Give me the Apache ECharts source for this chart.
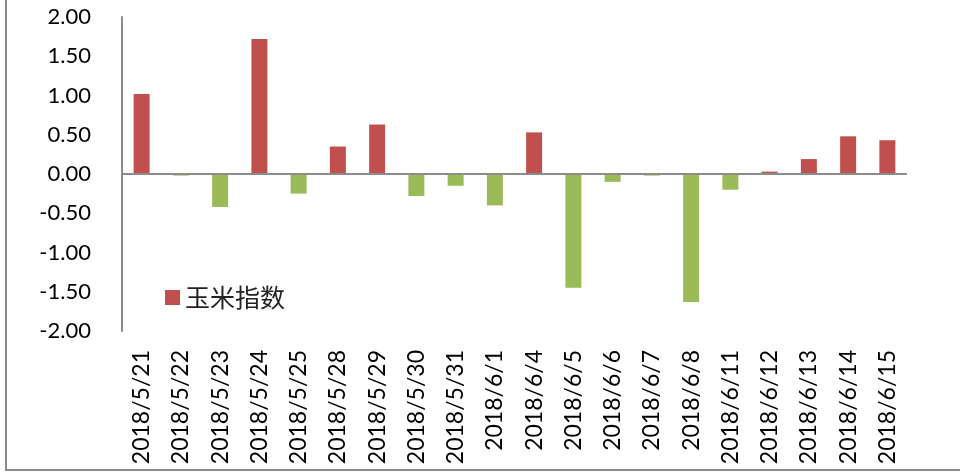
<!DOCTYPE html>
<html>
<head>
<meta charset="utf-8">
<script src="https://cdn.jsdelivr.net/npm/echarts@6/dist/echarts.min.js"></script>
<style>
html,body{margin:0;padding:0;background:#fff;}
#c{width:960px;height:473px;}
</style>
</head>
<body>
<div id="c"></div>
<script>
var categories = ['2018/5/21','2018/5/22','2018/5/23','2018/5/24','2018/5/25','2018/5/28','2018/5/29','2018/5/30','2018/5/31','2018/6/1','2018/6/4','2018/6/5','2018/6/6','2018/6/7','2018/6/8','2018/6/11','2018/6/12','2018/6/13','2018/6/14','2018/6/15'];
var values = [1.02, -0.02, -0.42, 1.72, -0.25, 0.35, 0.63, -0.28, -0.15, -0.40, 0.53, -1.45, -0.10, -0.02, -1.63, -0.20, 0.03, 0.19, 0.48, 0.43];
var seriesName = '玉米指数';
var yTicks = {min: -2, max: 2, interval: 0.5};

var chart = echarts.init(document.getElementById('c'));
chart.setOption({
  animation: false,
  backgroundColor: '#fff',
  grid: {left: 122, right: 53, top: 17, bottom: 142, containLabel: false},
  legend: {
    show: true,
    left: 160, top: 280,
    itemWidth: 15, itemHeight: 15, itemGap: 6,
    icon: 'rect',
    data: [{name: seriesName, itemStyle: {color: '#C0504D'}}],
    textStyle: {fontFamily: 'Noto Sans CJK SC', fontSize: 25, color: '#222'}
  },
  xAxis: {
    type: 'category',
    data: categories,
    axisLine: {show: false, onZero: false},
    axisTick: {show: false},
    axisLabel: {
      rotate: 90, margin: 19, interval: 0,
      fontFamily: 'Lato', fontSize: 23, color: '#000'
    }
  },
  yAxis: {
    type: 'value',
    min: yTicks.min, max: yTicks.max, interval: yTicks.interval,
    axisLine: {show: true, lineStyle: {color: '#8c8c8c', width: 2}},
    axisTick: {show: false},
    splitLine: {show: false},
    axisLabel: {
      margin: 31,
      formatter: function (v) { return v.toFixed(2); },
      fontFamily: 'Lato', fontSize: 22, color: '#000'
    }
  },
  series: [{
    name: seriesName,
    type: 'bar',
    data: values.map(function (v) {
      return {value: v, itemStyle: {color: v >= 0 ? '#C0504D' : '#9BBB59'}};
    }),
    barWidth: 16,
    markLine: {
      silent: true,
      symbol: 'none',
      label: {show: false},
      lineStyle: {color: '#8c8c8c', width: 2, type: 'solid'},
      data: [{yAxis: 0}]
    }
  }],
  graphic: [
    {type: 'line', shape: {x1: 6, y1: 0, x2: 6, y2: 470}, style: {stroke: '#8c8c8c', lineWidth: 2}},
    {type: 'line', shape: {x1: 5, y1: 470, x2: 960, y2: 470}, style: {stroke: '#8c8c8c', lineWidth: 2}}
  ]
});
</script>
</body>
</html>
